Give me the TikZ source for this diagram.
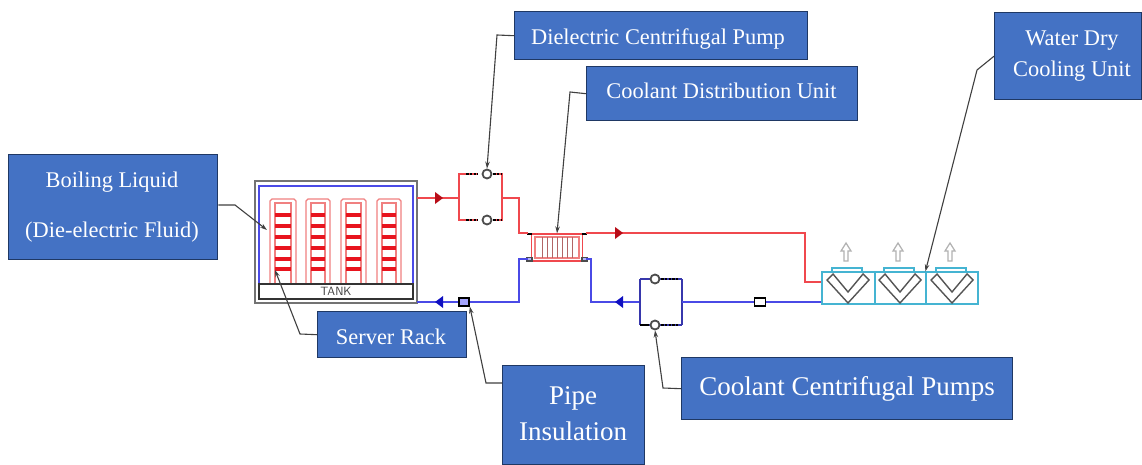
\documentclass[tikz,border=0pt]{standalone}
\usepackage{fontspec}
\setmainfont{Liberation Serif}
\usetikzlibrary{arrows.meta,calc}
\definecolor{boxblue}{HTML}{4472C4}
\definecolor{boxedge}{HTML}{1F3864}
\definecolor{redline}{HTML}{F0484E}
\definecolor{blueline}{HTML}{4A4AE6}
\definecolor{darkred}{HTML}{B80D18}
\definecolor{darkblue}{HTML}{1010C0}
\definecolor{barred}{HTML}{E8141E}
\definecolor{rackred}{HTML}{F08080}
\definecolor{cyanline}{HTML}{45B4D2}
\definecolor{vgray}{HTML}{555555}
\tikzset{
  x=1pt,y=-1pt,
  label box/.style={draw=boxedge,line width=1.4pt,fill=boxblue,text=white,inner sep=0pt,align=center,anchor=north west},
  label text/.style={text=white,align=center,inner sep=0pt},
  leader/.style={draw=black!75,line width=1.1pt,-{Stealth[length=7pt,width=4.5pt]}},
  redpipe/.style={draw=redline,line width=1.9pt},
  bluepipe/.style={draw=blueline,line width=1.9pt},
  thinblue/.style={draw=blueline!75!black,line width=1.2pt},
  pumpc/.style={circle,draw=black!70,line width=1.8pt,fill=white,minimum size=9pt,inner sep=0pt},
  valve/.style={draw=black,line width=1.7pt,fill=blue!35,minimum width=10pt,minimum height=7.5pt,inner sep=0pt},
  stub/.style={draw=black,line width=1.8pt,dash pattern=on 2.5pt off 1.3pt},
}
\newcommand{\tripR}[3]{\fill[#3] (#1,#2) ++(-3,-6) -- ++(8,6) -- ++(-8,6) -- cycle;}
\newcommand{\tripL}[3]{\fill[#3] (#1,#2) ++(3,-6) -- ++(-8,6) -- ++(8,6) -- cycle;}
\newcommand{\rackunit}[3]{%
  \draw[rackred,line width=1.4pt] (#1,284) -- (#1,201) -- ++(2,-2) -- (#2-2,199) -- ++(2,2) -- (#2,284);
  \draw[rackred,line width=1.3pt] (#1+5,284) -- (#1+5,203) -- (#2-5,203) -- (#2-5,284);
  \foreach \yy in {215,226,237,248,259,269}{\fill[barred] (#1+5,\yy-2.2) rectangle (#2-5,\yy+2.2);}
}
\newcommand{\updraft}[1]{\draw[black!30,line width=1.2pt] (#1-2,261) -- (#1-2,251) -- (#1-5,251) -- (#1,243) -- (#1+5,251) -- (#1+2,251) -- (#1+2,261) -- cycle;}
\newcommand{\vcoil}[1]{%
  \draw[vgray,line width=1.4pt] (#1+5,280) -- (#1+26,303) -- (#1+47,280) -- (#1+41,274) -- (#1+26,292) -- (#1+11,274) -- cycle;
}
\newcommand{\coiltop}[1]{\draw[cyanline,line width=1.2pt] (#1+10,272) -- (#1+10,268) -- (#1+40,268) -- (#1+40,272);}
\begin{document}
\begin{tikzpicture}
\useasboundingbox (0,0) rectangle (1142,465);
\fill[white] (0,0) rectangle (1142,465);

% tank
\draw[black!55,line width=1.4pt] (255,181) rectangle (417,303);
\draw[blueline,line width=1.3pt] (259,299) -- (259,186) -- (413,186) -- (413,299);
\rackunit{270}{296}{}
\rackunit{306}{330}{}
\rackunit{341}{366}{}
\rackunit{377}{401}{}
\node[draw=black!80,line width=1.2pt,fill=white,minimum width=154pt,minimum height=15pt,inner sep=0pt,font=\fontsize{12}{13}\selectfont\sffamily,text=black!75] (tank) at (336,291.5) {TANK};
\coordinate (tankR) at (417,198);
\coordinate (tankRb) at (417,302);
\coordinate (tankLiquid) at (267,230);
\coordinate (tankServer) at (275,270);

% heat exchanger
\node[draw=redline,line width=1.3pt,fill=white,minimum width=51pt,minimum height=27pt,inner sep=0pt] (hx) at (557,247.5) {};
\draw[rackred,line width=1.1pt] (535,237) rectangle (579,258);
\foreach \xx in {542,547,552,557,562,567,572}{\draw[black!50!red!60,line width=1pt] (\xx,237) -- (\xx,258);}
\draw[black,line width=1.8pt] (527,234) -- (532,234) (582,234) -- (587,234);
\draw[black!70,fill=blue!30,line width=1.1pt] (527,257.5) rectangle (532,261) (582,257.5) rectangle (587,261);

% hot loop
\draw[redpipe] (tankR) -- (459,198);
\tripR{438}{198}{darkred}
\draw[redpipe] (478,174) -- (459,174) -- (459,220) -- (478,220);
\draw[redpipe] (494,174) -- (502,174) -- (502,220) -- (494,220);
\draw[redpipe] (502,198) -- (519,198) -- (519,233) -- (528,233);
\draw[stub] (466,174) -- (478,174) (493,174) -- (501,174);
\draw[stub] (466,220) -- (478,220) (493,220) -- (501,220);
\node[pumpc] (hp1) at (487,174) {};
\node[pumpc] (hp2) at (487,220) {};
\draw[redpipe] (586,233) -- (805,233) -- (805,282) -- (822,282);
\tripR{618}{233}{darkred}

% cold loop
\draw[bluepipe] (tankRb) -- (519,302) -- (519,259) -- (528,259);
\tripL{440}{302}{darkblue}
\node[valve] (v1) at (464,302) {};
\draw[bluepipe] (586,259) -- (591,259) -- (591,302) -- (640,302);
\tripL{620}{302}{darkblue}
\draw[thinblue] (640,279) -- (640,325) (682,279) -- (682,325);
\draw[thinblue] (640,279) -- (682,279) (640,325) -- (682,325);
\draw[stub] (661,279) -- (678,279) (661,325) -- (678,325);
\draw[black,line width=1.6pt] (640,325) -- (649,325);
\node[pumpc] (cp1) at (655,279) {};
\node[pumpc] (cp2) at (655,325) {};
\draw[bluepipe] (682,302) -- (822,302);
\node[valve,fill=white,minimum width=11pt,minimum height=8pt] (v2) at (760,302) {};

% dry cooler
\coiltop{822}\coiltop{874}\coiltop{926}
\node[draw=cyanline,line width=1.2pt,minimum width=53pt,minimum height=32pt,inner sep=0pt] (c1) at (848.5,288) {};
\node[draw=cyanline,line width=1.2pt,minimum width=51pt,minimum height=32pt,inner sep=0pt] (c2) at (900.5,288) {};
\node[draw=cyanline,line width=1.2pt,minimum width=52pt,minimum height=32pt,inner sep=0pt] (c3) at (952,288) {};
\vcoil{822}\vcoil{874}\vcoil{926}
\updraft{846}\updraft{898}\updraft{950}

% labels
\node[label box,minimum width=209pt,minimum height=105pt] (lb1) at (8,154) {};
\node[label text,font=\fontsize{22.4}{50}\selectfont] at (112,207) {Boiling Liquid\\(Die-electric Fluid)};
\node[label box,minimum width=293pt,minimum height=48pt] (lb2) at (514,11) {};
\node[label text,font=\fontsize{22.4}{26}\selectfont] at (658,39) {Dielectric Centrifugal Pump};
\node[label box,minimum width=271pt,minimum height=54pt] (lb3) at (586,66) {};
\node[label text,font=\fontsize{22.4}{26}\selectfont] at (721.5,91) {Coolant Distribution Unit};
\node[label box,minimum width=147pt,minimum height=87pt] (lb4) at (994,12) {};
\node[label text,font=\fontsize{22.4}{31}\selectfont] at (1072,56) {Water Dry\\Cooling Unit};
\node[label box,minimum width=149pt,minimum height=46pt] (lb5) at (317,311) {};
\node[label text,font=\fontsize{22.4}{26}\selectfont] at (391,337) {Server Rack};
\node[label box,minimum width=142pt,minimum height=99pt] (lb6) at (502,365) {};
\node[label text,font=\fontsize{27}{36}\selectfont] at (573,414) {Pipe\\Insulation};
\node[label box,minimum width=331pt,minimum height=62pt,font=\fontsize{27}{32}\selectfont] (lb7) at (681,357) {Coolant Centrifugal Pumps};

% leaders
\draw[leader] (lb1.east |- 0,205) -- (235,205) -- (tankLiquid);
\draw[leader] (lb5.west) -- (300,334) -- (tankServer);
\draw[leader] (lb2.west) -- (497,35) -- (hp1.north);
\draw[leader] (lb3.west) -- (570,92) -- (hx.north);
\draw[leader] (lb4.west) -- (977,70) -- (c3.north west);
\draw[leader] (lb7.west) -- (663,388) -- (cp2.south);
\draw[leader] (lb6.west |- 0,383) -- (486,383) -- (v1.south east);
\end{tikzpicture}
\end{document}
